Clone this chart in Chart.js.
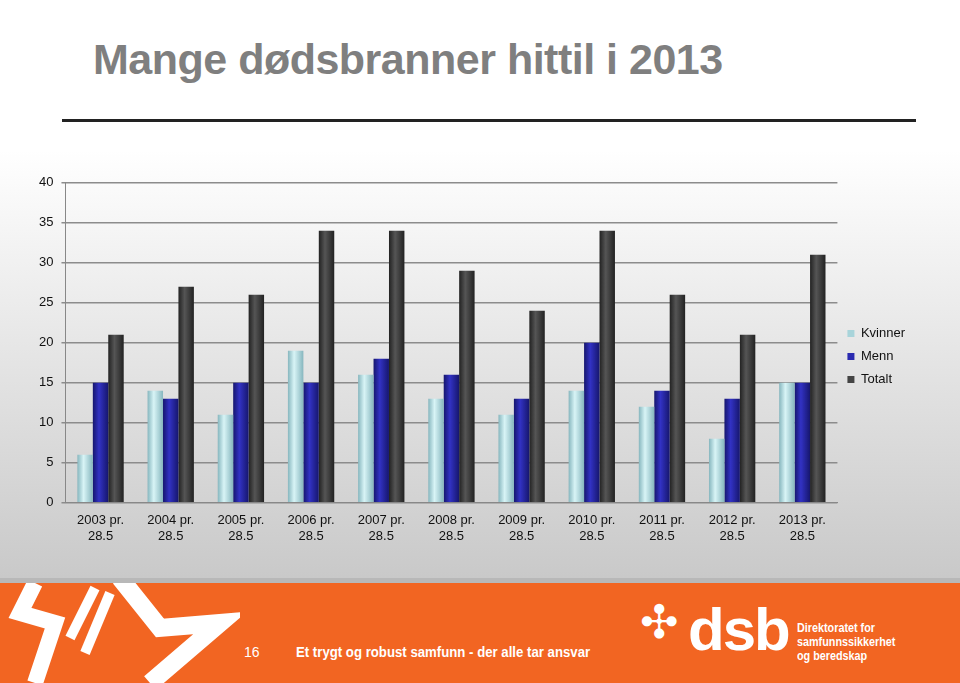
<!DOCTYPE html>
<html>
<head>
<meta charset="utf-8">
<script src="https://cdn.jsdelivr.net/npm/chart.js@4/dist/chart.umd.min.js"></script>
<style>
  body { margin:0; width:960px; height:683px; overflow:hidden; font-family:"Liberation Sans", Arial, sans-serif; }
  #page { position:relative; width:960px; height:683px; background:linear-gradient(#ffffff 0px, #ffffff 150px, #c9c9c9 578px); }
  #title { position:absolute; left:93px; top:35px; font-size:43px; font-weight:bold; color:#7f7f7f; letter-spacing:-0.5px; }
  #rule { position:absolute; left:62px; top:119px; width:854px; height:3px; background:#222; }
  #chartbox { position:absolute; left:31px; top:167px; width:884px; height:379px; }
  #band { position:absolute; left:0; top:578px; width:960px; height:5px; background:#b8b8b8; }
  #footer { position:absolute; left:0; top:583px; width:960px; height:100px; background:#f26522; color:#fff; }
  #pnum { position:absolute; left:244px; top:61px; font-size:14px; }
  #slogan { position:absolute; left:296px; top:60px; font-size:15px; font-weight:bold; transform:scaleX(0.88); transform-origin:left; white-space:nowrap; }
  #star { position:absolute; left:640px; top:14px; font-size:46px; line-height:50px; }
  #dsb { position:absolute; left:688px; top:14px; font-size:60px; line-height:66px; font-weight:bold; letter-spacing:-2px; }
  #dir { position:absolute; left:797px; top:38px; font-size:12px; font-weight:bold; line-height:14px; transform:scaleX(0.9); transform-origin:left; }
</style>
</head>
<body>
<div id="page">
  <div id="title">Mange dødsbranner hittil i 2013</div>
  <div id="rule"></div>
  <div id="chartbox"><canvas id="chart"></canvas></div>
  <div id="band"></div>
  <div id="footer">
    <svg width="240" height="100" style="position:absolute;left:0;top:0">
      <polyline points="35,0 20,30 55,40 35,100" fill="none" stroke="#fff" stroke-width="16"/>
      <polyline points="95,5 70,55" fill="none" stroke="#fff" stroke-width="10"/>
      <polyline points="110,10 85,70" fill="none" stroke="#fff" stroke-width="10"/>
      <polyline points="120,-5 160,45 220,40 150,100" fill="none" stroke="#fff" stroke-width="18"/>
    </svg>
    <div id="pnum">16</div>
    <div id="slogan">Et trygt og robust samfunn - der alle tar ansvar</div>
    <div id="star">✣</div>
    <div id="dsb">dsb</div>
    <div id="dir">Direktoratet for<br>samfunnssikkerhet<br>og beredskap</div>
  </div>
</div>
<script>
var categories = [["2003 pr.","28.5"],["2004 pr.","28.5"],["2005 pr.","28.5"],["2006 pr.","28.5"],["2007 pr.","28.5"],["2008 pr.","28.5"],["2009 pr.","28.5"],["2010 pr.","28.5"],["2011 pr.","28.5"],["2012 pr.","28.5"],["2013 pr.","28.5"]];
var kvinner = [6,14,11,19,16,13,11,14,12,8,15];
var menn = [15,13,15,15,18,16,13,20,14,13,15];
var totalt = [21,27,26,34,34,29,24,34,26,21,31];

var catPct = 0.66;

// horizontal shading across each bar, placed from the x scale
function shade(edge, mid) {
  return function (c) {
    var xs = c.chart.scales.x;
    if (!xs || !xs.width || c.dataIndex === undefined) return mid;
    var barW = xs.width / categories.length * catPct / 3;
    var cx = xs.getPixelForValue(c.dataIndex) + (c.datasetIndex - 1) * barW;
    var g = c.chart.ctx.createLinearGradient(cx - barW / 2, 0, cx + barW / 2, 0);
    g.addColorStop(0, edge);
    g.addColorStop(0.4, mid);
    g.addColorStop(1, edge);
    return g;
  };
}

new Chart(document.getElementById("chart"), {
  type: "bar",
  data: {
    labels: categories,
    datasets: [
      { label: "Kvinner", data: kvinner, backgroundColor: shade("#86b6be", "#d8f4f6"), borderWidth: 0 },
      { label: "Menn", data: menn, backgroundColor: shade("#16166e", "#3232c4"), borderWidth: 0 },
      { label: "Totalt", data: totalt, backgroundColor: shade("#222222", "#555555"), borderWidth: 0 }
    ]
  },
  options: {
    responsive: true,
    maintainAspectRatio: false,
    animation: false,
    datasets: { bar: { categoryPercentage: catPct, barPercentage: 1.0 } },
    plugins: {
      legend: {
        position: "right",
        align: "center",
        labels: {
          boxWidth: 7, boxHeight: 7, padding: 10, color: "#111", font: { size: 13, family: "Liberation Sans" },
          generateLabels: function (chart) {
            var cols = ["#a8d4da", "#2a2ab0", "#444444"];
            return chart.data.datasets.map(function (d, i) {
              return { text: d.label, fillStyle: cols[i], strokeStyle: cols[i], lineWidth: 0, datasetIndex: i, fontColor: "#111" };
            });
          }
        }
      },
      tooltip: { enabled: false }
    },
    scales: {
      x: {
        grid: { display: false },
        border: { color: "#888" },
        ticks: { color: "#111", font: { size: 13, family: "Liberation Sans" }, maxRotation: 0, padding: 2 }
      },
      y: {
        min: 0, max: 40,
        ticks: { stepSize: 5, color: "#111", font: { size: 13, family: "Liberation Sans" }, padding: 8 },
        grid: { color: "#8c8c8c", lineWidth: 1.5, drawTicks: true, tickLength: 4 },
        border: { color: "#888" }
      }
    }
  }
});
</script>
</body>
</html>
